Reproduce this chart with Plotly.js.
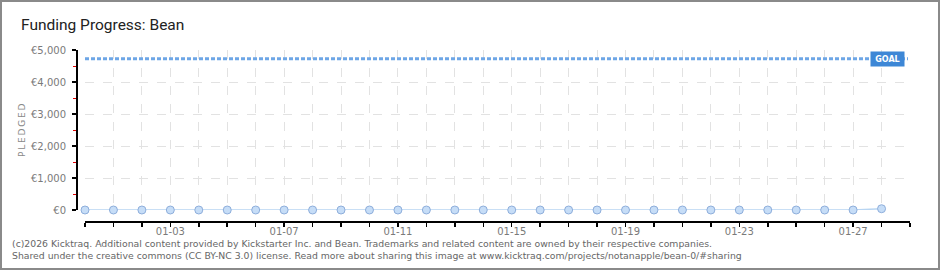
<!DOCTYPE html>
<html>
<head>
<meta charset="utf-8">
<script src="https://cdn.plot.ly/plotly-3.0.1.min.js"></script>
<style>
  html, body { margin: 0; padding: 0; background: #fff; }
  #wrap { width: 940px; height: 270px; box-sizing: border-box; border: 2px solid #8a8a8a; overflow: hidden; }
  #chart { width: 936px; height: 266px; }
</style>
</head>
<body>
<div id="wrap"><div id="chart"></div></div>
<script>
// ---- data ----
const dates = [
  '2025-12-31','2026-01-01','2026-01-02','2026-01-03','2026-01-04','2026-01-05','2026-01-06',
  '2026-01-07','2026-01-08','2026-01-09','2026-01-10','2026-01-11','2026-01-12','2026-01-13',
  '2026-01-14','2026-01-15','2026-01-16','2026-01-17','2026-01-18','2026-01-19','2026-01-20',
  '2026-01-21','2026-01-22','2026-01-23','2026-01-24','2026-01-25','2026-01-26','2026-01-27',
  '2026-01-28'
];
const pledged = [0,0,0,0,0,0,0,0,0,0,0,0,0,0,0,0,0,0,0,0,0,0,0,0,0,0,0,0,40];
const goal = 4730;
const xRange = ['2025-12-31', '2026-01-29'];
const yTickVals = [0, 1000, 2000, 3000, 4000, 5000];
const yTickText = ['€0', '€1,000', '€2,000', '€3,000', '€4,000', '€5,000'];
const titleText = 'Funding Progress: Bean';
const yTitleText = 'PLEDGED';
const goalText = 'GOAL';
const footerLines = [
  '(c)2026 Kicktraq. Additional content provided by Kickstarter Inc. and Bean. Trademarks and related content are owned by their respective companies.',
  'Shared under the creative commons (CC BY-NC 3.0) license. Read more about sharing this image at www.kicktraq.com/projects/notanapple/bean-0/#sharing'
];

// ---- layout geometry (inside the bordered box) ----
const W = 936, H = 266;
const M = { l: 74, r: 28, t: 48, b: 47 };
const PW = W - M.l - M.r, PH = H - M.t - M.b;
// page -> paper helpers (page coords include 2px border)
const px = x => (x - 2 - M.l) / PW;
const py = y => (H - M.b - (y - 2)) / PH;

const tickFont = { family: 'DejaVu Sans, Verdana, sans-serif', size: 10, color: '#7a7a7a' };
const spaced = s => s.split('').join('\u2009');

const trace = {
  x: dates, y: pledged, type: 'scatter', mode: 'lines+markers',
  line: { color: '#b8d5f2', width: 1.5 },
  marker: { size: 8, color: '#c6ddf7', line: { color: '#8eaedb', width: 1 } },
  cliponaxis: false, hoverinfo: 'skip'
};

const layout = {
  width: W, height: H,
  margin: M,
  paper_bgcolor: '#fff', plot_bgcolor: '#fff',
  showlegend: false,
  xaxis: {
    type: 'date', range: xRange, domain: [px(85), 1],
    anchor: 'free', position: 0,
    showline: true, linecolor: '#000', linewidth: 1.5,
    ticks: 'outside', ticklen: 4, tickcolor: '#000', tickwidth: 1.5,
    tick0: '2026-01-03', dtick: 4 * 86400000, tickformat: '%m-%d',
    tickfont: tickFont, ticklabelstandoff: -4,
    showgrid: true, gridcolor: '#e2e2e2', griddash: 'dash', gridwidth: 1,
    minor: { dtick: 86400000, ticks: 'outside', ticklen: 4, tickcolor: '#000', tickwidth: 1.5,
             showgrid: true, gridcolor: '#e2e2e2', griddash: 'dash', gridwidth: 1 },
    zeroline: false, fixedrange: true
  },
  yaxis: {
    range: [0, 5000], domain: [py(210), 1],
    anchor: 'free', position: 0,
    showline: true, linecolor: '#000', linewidth: 1.5,
    tickvals: yTickVals, ticktext: yTickText,
    ticks: 'outside', ticklen: 4, tickcolor: '#000', tickwidth: 1.5,
    tickfont: tickFont, ticklabelstandoff: 4,
    showgrid: true, gridcolor: '#e2e2e2', griddash: 'dash', gridwidth: 1,
    minor: { dtick: 500, tick0: 0, ticks: 'outside', ticklen: 3, tickcolor: '#e00000', tickwidth: 1, showgrid: false },
    zeroline: false, fixedrange: true
  },
  shapes: [{
    type: 'line', xref: 'paper', yref: 'y',
    x0: px(85), x1: px(908), y0: goal, y1: goal,
    line: { color: '#6ea6e6', width: 3, dash: '4px,2px' }, layer: 'above'
  }],
  annotations: [
    { xref: 'paper', yref: 'paper', x: px(19), y: py(25), xanchor: 'left', yanchor: 'middle',
      text: titleText, showarrow: false,
      font: { family: 'Liberation Sans Narrow, Roboto, sans-serif', size: 15.5, color: '#222' } },
    { xref: 'paper', yref: 'paper', x: px(22), y: py(130), xanchor: 'center', yanchor: 'middle',
      text: spaced(yTitleText), textangle: -90, showarrow: false,
      font: { family: 'DejaVu Sans, sans-serif', size: 9, color: '#888' } },
    { xref: 'paper', yref: 'y', x: px(887.5), y: goal, xanchor: 'center', yanchor: 'middle',
      text: goalText, showarrow: false, bgcolor: '#3d87d6', borderpad: 2,
      width: 29, height: 10,
      font: { family: 'DejaVu Sans, sans-serif', size: 8, color: '#fff', weight: 'bold' } },
    { xref: 'paper', yref: 'paper', x: px(10), y: py(249), xanchor: 'left', yanchor: 'middle',
      align: 'left', text: footerLines.join('<br>'), showarrow: false,
      font: { family: 'DejaVu Sans, Verdana, sans-serif', size: 9.3, color: '#666' } }
  ]
};

Plotly.newPlot('chart', [trace], layout, { displayModeBar: false, staticPlot: true });
</script>
</body>
</html>
